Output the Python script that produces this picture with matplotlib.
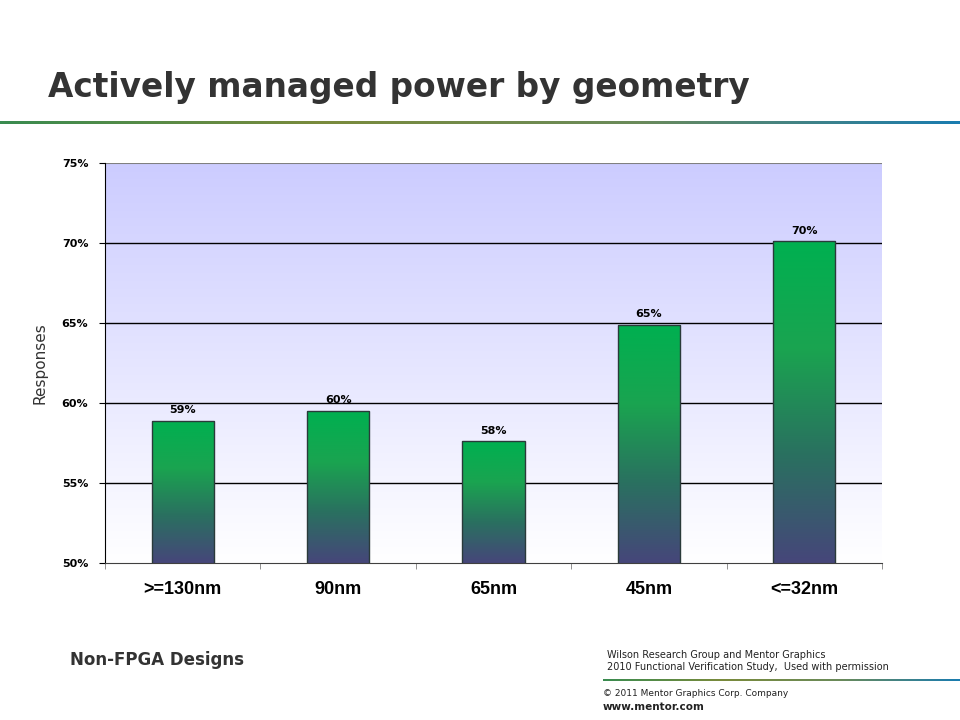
import numpy as np
import matplotlib
matplotlib.use('Agg')
import matplotlib.pyplot as plt
from matplotlib.colors import LinearSegmentedColormap

categories = ['>=130nm', '90nm', '65nm', '45nm', '<=32nm']
values = [58.9, 59.5, 57.6, 64.9, 70.1]
value_labels = ['59%', '60%', '58%', '65%', '70%']
y_ticks = [50, 55, 60, 65, 70, 75]
y_tick_labels = ['50%', '55%', '60%', '65%', '70%', '75%']

title = 'Actively managed power by geometry'
y_label = 'Responses'
subset_note = 'Non-FPGA Designs'
source_lines = ['Wilson Research Group and Mentor Graphics',
                '2010 Functional Verification Study,  Used with permission']
copyright_text = '\u00a9 2011 Mentor Graphics Corp. Company'
site_text = 'www.mentor.com'


def rule_line(fig, rect):
    ## green -> olive -> blue stripe like the slide template
    cmap = LinearSegmentedColormap.from_list('rule', ['#3a8c50', '#7a8a3c', '#6a8a5a', '#1a7cb0'])
    ax = fig.add_axes(rect)
    ax.imshow(np.linspace(0, 1, 256).reshape(1, -1), cmap=cmap, aspect='auto', extent=[0, 1, 0, 1])
    ax.set_axis_off()


def draw_chart(fig):
    ax = fig.add_axes([105 / 960, 1 - 563 / 720, 777 / 960, 400 / 720])

    bg = LinearSegmentedColormap.from_list('bg', ['#ffffff', '#ccccff'])
    ax.imshow(np.linspace(0, 1, 256).reshape(-1, 1), cmap=bg, origin='lower', aspect='auto',
              extent=[0, 1, 0, 1], transform=ax.transAxes, zorder=0)

    x = np.arange(len(categories))
    bars = ax.bar(x, values, width=0.4, bottom=0, facecolor='none', edgecolor='#2a3a3a',
                  linewidth=1, zorder=3)

    barmap = LinearSegmentedColormap.from_list('bar', ['#46467a', '#2a7060', '#1aa450', '#00b050'])
    for rect, v, lab in zip(bars, values, value_labels):
        x0 = rect.get_x()
        w = rect.get_width()
        im = ax.imshow(np.linspace(0, 1, 256).reshape(-1, 1), cmap=barmap, origin='lower',
                       aspect='auto', extent=[x0, x0 + w, 50, v], zorder=2)
        im.set_clip_path(rect)
        ax.text(x0 + w / 2, v + 0.35, lab, ha='center', va='bottom', fontsize=8,
                fontweight='bold', family='DejaVu Sans', zorder=4)

    ax.set_xlim(-0.5, len(categories) - 0.5)
    ax.set_ylim(50, 75)
    ax.set_yticks(y_ticks)
    ax.set_yticklabels(y_tick_labels, fontsize=8, fontweight='bold')
    ax.set_xticks(x)
    ax.set_xticklabels(categories, fontsize=13, fontweight='bold', family='Liberation Sans')
    ax.tick_params(axis='x', length=0, pad=13)
    ax.set_xticks(np.arange(len(categories) + 1) - 0.5, minor=True)
    ax.tick_params(axis='x', which='minor', length=4, color='#808080')
    ax.tick_params(axis='y', length=4, pad=8)

    for t in y_ticks[1:-1]:
        ax.axhline(t, color='black', linewidth=1, zorder=1)
    ax.axhline(75, color='#808080', linewidth=1.5, zorder=1)

    ax.spines['top'].set_visible(False)
    ax.spines['right'].set_visible(False)
    ax.spines['left'].set_color('black')
    ax.spines['bottom'].set_color('#404040')

    ax.set_ylabel(y_label, fontsize=11, color='#333333', labelpad=10)
    return ax


def main():
    fig = plt.figure(figsize=(9.6, 7.2), dpi=100)
    fig.patch.set_facecolor('white')

    fig.text(48 / 960, 1 - 88 / 720, title, fontsize=23.6, fontweight='bold', color='#333333',
             va='center', ha='left', family='DejaVu Sans')
    rule_line(fig, [0, 1 - 124 / 720, 1, 3 / 720])

    draw_chart(fig)

    fig.text(70 / 960, 1 - 660 / 720, subset_note, fontsize=12, fontweight='bold', color='#333333',
             va='center', ha='left', family='DejaVu Sans')
    fig.text(607 / 960, 1 - 655 / 720, source_lines[0], fontsize=7, color='#222222', va='center')
    fig.text(607 / 960, 1 - 667 / 720, source_lines[1], fontsize=7, color='#222222', va='center')
    rule_line(fig, [603 / 960, 1 - 681 / 720, 357 / 960, 2 / 720])
    fig.text(603 / 960, 1 - 693 / 720, copyright_text, fontsize=6.5, color='#222222', va='center')
    fig.text(603 / 960, 1 - 707 / 720, site_text, fontsize=7.5, fontweight='bold', color='#222222',
             va='center')

    plt.savefig('out.png', dpi=100)


if __name__ == '__main__':
    main()
